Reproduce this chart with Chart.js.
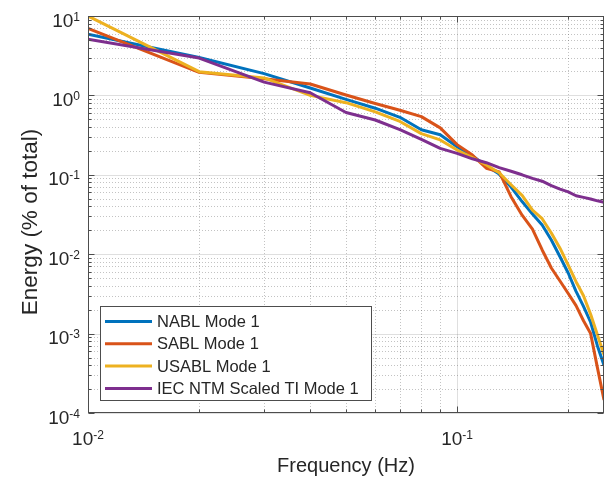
<!DOCTYPE html>
<html>
<head>
<meta charset="utf-8">
<script src="https://cdn.jsdelivr.net/npm/chart.js@4.4.1/dist/chart.umd.min.js"></script>
<style>
  body { margin: 0; background: #ffffff; }
  #graficas { width: 610px; height: 480px; }
</style>
</head>
<body>
<div id="graficas"><canvas id="ENERGIA" width="610" height="480"></canvas></div>
<script>
// datos (energia en % del total)
const frecuencias = [0.01, 0.02, 0.03, 0.04, 0.05, 0.06, 0.07, 0.08, 0.09, 0.10,
  0.11, 0.12, 0.13, 0.14, 0.15, 0.16, 0.17, 0.18, 0.19, 0.20, 0.21, 0.22, 0.23, 0.24, 0.25];

const nablModo1 = [5.9, 3.0, 1.88, 1.24, 0.89, 0.69, 0.53, 0.37, 0.32, 0.226,
  0.172, 0.13, 0.102, 0.07, 0.046, 0.032, 0.0233, 0.0151, 0.0093, 0.0058, 0.0034, 0.0022, 0.00139, 0.0007, 0.0004];
const sablModo1 = [7.0, 1.95, 1.62, 1.39, 1.01, 0.79, 0.65, 0.54, 0.39, 0.24,
  0.177, 0.121, 0.109, 0.053, 0.031, 0.0207, 0.0113, 0.0067, 0.0046, 0.0032, 0.00225, 0.00145, 0.001, 0.00037, 0.000146];
const usablModo1 = [10.0, 1.99, 1.66, 1.0, 0.81, 0.62, 0.47, 0.33, 0.275, 0.205,
  0.165, 0.133, 0.106, 0.075, 0.055, 0.036, 0.028, 0.0185, 0.0119, 0.0073, 0.0045, 0.003, 0.00175, 0.00096, 0.00054];
const iecModo1 = [5.1, 2.95, 1.47, 1.08, 0.61, 0.49, 0.37, 0.28, 0.215, 0.186,
  0.159, 0.142, 0.123, 0.111, 0.100, 0.090, 0.083, 0.073, 0.066, 0.061, 0.0545, 0.052, 0.0495, 0.047, 0.045];

const nombres = ['NABL Mode 1', 'SABL Mode 1', 'USABL Mode 1', 'IEC NTM Scaled TI Mode 1'];
const colores = ['#0072BD', '#D95319', '#EDB120', '#7E2F8E'];

// ticks mayores (potencias de 10) y sus exponentes
const ticksX = [0.01, 0.1];
const exponentesX = ['-2', '-1'];
const ticksY = [1e-4, 1e-3, 1e-2, 1e-1, 1, 10];
const exponentesY = ['-4', '-3', '-2', '-1', '0', '1'];

const TEXTO = '#262626';
const FUENTE = "'Liberation Sans', Arial, Helvetica, sans-serif";

function menores(min, max) {
  let lista = [];
  for (let d = Math.pow(10, Math.floor(Math.log10(min))); d < max; d *= 10) {
    for (let k = 2; k <= 9; k++) {
      let v = k * d;
      if (v > min && v < max) lista.push(v);
    }
  }
  return lista;
}

function potencia(ctx, x, yBase, exp, alinear) {
  ctx.font = '19px ' + FUENTE;
  let w10 = ctx.measureText('10').width;
  ctx.font = '12px ' + FUENTE;
  let wExp = ctx.measureText(exp).width;
  let inicio = alinear === 'right' ? x - w10 - wExp : x - (w10 + wExp) / 2;
  ctx.textAlign = 'left';
  ctx.textBaseline = 'alphabetic';
  ctx.fillStyle = TEXTO;
  ctx.font = '19px ' + FUENTE;
  ctx.fillText('10', inicio, yBase);
  ctx.font = '12px ' + FUENTE;
  ctx.fillText(exp, inicio + w10, yBase - 6);
}

const ejesMatlab = {
  id: 'ejesMatlab',
  beforeDatasetsDraw(chart) {
    const {ctx, chartArea: a, scales: {x, y}} = chart;
    ctx.save();
    ctx.lineWidth = 1;
    // rejilla menor punteada
    ctx.strokeStyle = 'rgba(38,38,38,0.28)';
    ctx.setLineDash([1, 2]);
    menores(0.01, 0.25).forEach(v => {
      let px = Math.round(x.getPixelForValue(v)) + 0.5;
      ctx.beginPath(); ctx.moveTo(px, a.top); ctx.lineTo(px, a.bottom); ctx.stroke();
    });
    menores(1e-4, 10).forEach(v => {
      let py = Math.round(y.getPixelForValue(v)) + 0.5;
      ctx.beginPath(); ctx.moveTo(a.left, py); ctx.lineTo(a.right, py); ctx.stroke();
    });
    // rejilla mayor
    ctx.setLineDash([]);
    ctx.strokeStyle = 'rgba(38,38,38,0.15)';
    ticksX.forEach(v => {
      let px = Math.round(x.getPixelForValue(v)) + 0.5;
      ctx.beginPath(); ctx.moveTo(px, a.top); ctx.lineTo(px, a.bottom); ctx.stroke();
    });
    ticksY.forEach(v => {
      let py = Math.round(y.getPixelForValue(v)) + 0.5;
      ctx.beginPath(); ctx.moveTo(a.left, py); ctx.lineTo(a.right, py); ctx.stroke();
    });
    ctx.restore();
  },
  afterDatasetsDraw(chart) {
    const {ctx, chartArea: a, scales: {x, y}} = chart;
    ctx.save();
    // caja y marcas hacia dentro
    ctx.strokeStyle = '#4d4d4d';
    ctx.lineWidth = 1;
    let l = Math.round(a.left) + 0.5, r = Math.round(a.right) - 0.5;
    let t = Math.round(a.top) + 0.5, b = Math.round(a.bottom) - 0.5;
    ctx.strokeRect(l, t, r - l, b - t);
    const marcaX = (v, largo) => {
      let px = Math.round(x.getPixelForValue(v)) + 0.5;
      ctx.beginPath();
      ctx.moveTo(px, b); ctx.lineTo(px, b - largo);
      ctx.moveTo(px, t); ctx.lineTo(px, t + largo);
      ctx.stroke();
    };
    const marcaY = (v, largo) => {
      let py = Math.round(y.getPixelForValue(v)) + 0.5;
      ctx.beginPath();
      ctx.moveTo(l, py); ctx.lineTo(l + largo, py);
      ctx.moveTo(r, py); ctx.lineTo(r - largo, py);
      ctx.stroke();
    };
    menores(0.01, 0.25).forEach(v => marcaX(v, 3));
    ticksX.forEach(v => marcaX(v, 6));
    menores(1e-4, 10).forEach(v => marcaY(v, 3));
    ticksY.forEach(v => marcaY(v, 6));

    // etiquetas de ticks
    ticksY.forEach((v, i) => potencia(ctx, 80, y.getPixelForValue(v) + 10.5, exponentesY[i], 'right'));
    ticksX.forEach((v, i) => potencia(ctx, x.getPixelForValue(v), 445, exponentesX[i], 'center'));

    // titulos de ejes
    ctx.fillStyle = TEXTO;
    ctx.textAlign = 'center';
    ctx.textBaseline = 'alphabetic';
    ctx.font = '20px ' + FUENTE;
    ctx.fillText('Frequency (Hz)', (a.left + a.right) / 2, 471.5);
    ctx.save();
    ctx.translate(36.5, 222);
    ctx.rotate(-Math.PI / 2);
    ctx.font = '22.5px ' + FUENTE;
    ctx.fillText('Energy (% of total)', 0, 0);
    ctx.restore();

    // leyenda dentro del area
    ctx.fillStyle = '#ffffff';
    ctx.fillRect(100.5, 306.5, 271, 94);
    ctx.strokeStyle = '#4d4d4d';
    ctx.strokeRect(100.5, 306.5, 271, 94);
    chart.data.datasets.forEach((ds, i) => {
      let fy = 321.5 + i * 22.3;
      ctx.strokeStyle = ds.borderColor;
      ctx.lineWidth = 3;
      ctx.beginPath(); ctx.moveTo(105, fy); ctx.lineTo(152, fy); ctx.stroke();
      ctx.fillStyle = TEXTO;
      ctx.font = '16.5px ' + FUENTE;
      ctx.textAlign = 'left';
      ctx.textBaseline = 'middle';
      ctx.fillText(ds.label, 157, fy + 1);
    });
    ctx.restore();
  }
};

const series = [nablModo1, sablModo1, usablModo1, iecModo1];

var grafico = new Chart(document.getElementById('ENERGIA'), {
  type: 'line',
  data: {
    datasets: series.map((serie, i) => ({
      label: nombres[i],
      data: frecuencias.map((f, j) => ({x: f, y: serie[j]})),
      borderColor: colores[i],
      backgroundColor: colores[i],
      borderWidth: 3,
      pointRadius: 0,
      tension: 0,
      borderJoinStyle: 'round',
      order: series.length - i
    }))
  },
  options: {
    responsive: false,
    animation: false,
    layout: { padding: { top: 16, right: 6, left: 0, bottom: 0 } },
    plugins: { legend: { display: false }, tooltip: { enabled: false } },
    scales: {
      x: {
        type: 'logarithmic',
        min: 0.01,
        max: 0.25,
        grid: { display: false },
        border: { display: false },
        ticks: { display: false },
        afterFit(s) { s.height = 67; }
      },
      y: {
        type: 'logarithmic',
        min: 1e-4,
        max: 10,
        grid: { display: false },
        border: { display: false },
        ticks: { display: false },
        afterFit(s) { s.width = 88; }
      }
    }
  },
  plugins: [ejesMatlab]
});
</script>
</body>
</html>
